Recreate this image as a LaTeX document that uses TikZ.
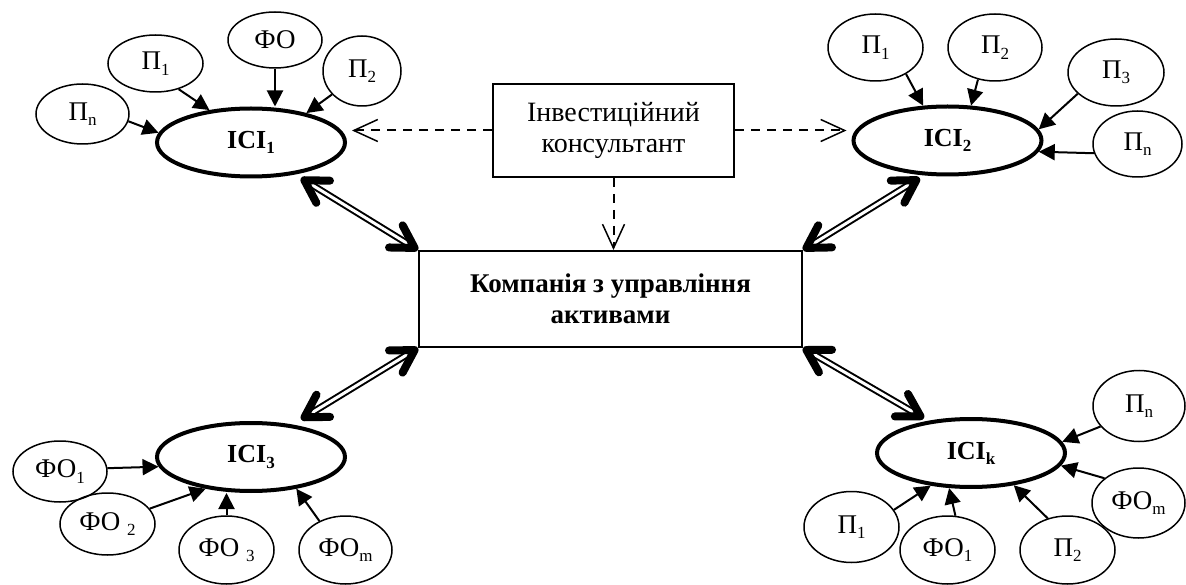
\documentclass[tikz,border=0pt]{standalone}
\usepackage{fontspec}
\setmainfont{Liberation Serif}
\usetikzlibrary{shapes.geometric,arrows.meta}
\newcommand\lowsub[1]{\raisebox{-0.2em}{\fontsize{17}{17}\selectfont #1}}

\tikzset{
  pe/.style={ellipse, draw, line width=1.5pt, inner sep=0pt,
    font=\fontsize{27}{30}\selectfont},
  ici/.style={ellipse, draw, line width=4pt, inner sep=0pt,
    minimum width=188pt, minimum height=68pt,
    font=\bfseries\fontsize{26}{30}\selectfont},
  box/.style={rectangle, draw, line width=2pt, inner sep=0pt, align=center},
  feed/.style={line width=2pt, -{Triangle[length=16pt,width=16pt]}},
  advice/.style={line width=2pt, dash pattern=on 9pt off 7pt,
    -{Straight Barb[length=24pt,width=22pt,line width=1.5pt]}},
  bigbarb/.tip={Straight Barb[color=black,round,length=22pt,width=26pt,line width=8pt]},
  shaft/.style={double, double distance=3pt, line width=2pt},
  bitips/.style={white, line width=0.01pt, bigbarb-bigbarb}
}

\begin{document}
\begin{tikzpicture}[x=1pt,y=-1pt]
\useasboundingbox (0,0) rectangle (1186,585);

% central boxes
\node[box, minimum width=383pt, minimum height=96pt,
      font=\bfseries\fontsize{27}{31}\selectfont] (main) at (610.5,299)
  {Компанія з управління\\активами};
\node[box, minimum width=241pt, minimum height=93pt,
      font=\fontsize{28}{31}\selectfont] (cons) at (613.5,130.5)
  {Інвестиційний\\консультант};

% investment institutions
\node[ici] (ici1) at (251,142.5) {ІСІ\lowsub{1}};
\node[ici] (ici2) at (947.5,140.5) {ІСІ\lowsub{2}};
\node[ici] (ici3) at (251,457) {ІСІ\lowsub{3}};
\node[ici] (icik) at (971,453) {ІСІ\lowsub{k}};

% participants, top left
\node[pe, minimum width=93pt, minimum height=60pt] (tlPn) at (82.5,114) {П\lowsub{n}};
\node[pe, minimum width=95pt, minimum height=57pt] (tlP1) at (155.5,63.5) {П\lowsub{1}};
\node[pe, minimum width=94pt, minimum height=56pt] (tlFO) at (275,40) {ФО};
\node[pe, minimum width=78pt, minimum height=70pt] (tlP2) at (362,71) {П\lowsub{2}};

% participants, top right
\node[pe, minimum width=95pt, minimum height=67pt] (trP1) at (875.5,47.5) {П\lowsub{1}};
\node[pe, minimum width=94pt, minimum height=67pt] (trP2) at (995,47.5) {П\lowsub{2}};
\node[pe, minimum width=96pt, minimum height=67pt] (trP3) at (1116,72.5) {П\lowsub{3}};
\node[pe, minimum width=89pt, minimum height=66pt] (trPn) at (1137.5,144) {П\lowsub{n}};

% participants, bottom left
\node[pe, minimum width=94pt, minimum height=61pt] (blFO1) at (60,471.5) {ФО\lowsub{1}};
\node[pe, minimum width=95pt, minimum height=62pt] (blFO2) at (107.5,524) {ФО \lowsub{2}};
\node[pe, minimum width=95pt, minimum height=68pt] (blFO3) at (226.5,550) {ФО \lowsub{3}};
\node[pe, minimum width=93pt, minimum height=68pt] (blFOm) at (345.5,550) {ФО\lowsub{m}};

% participants, bottom right
\node[pe, minimum width=92pt, minimum height=71pt] (brPn) at (1139,406) {П\lowsub{n}};
\node[pe, minimum width=93pt, minimum height=70pt] (brFOm) at (1138.5,503) {ФО\lowsub{m}};
\node[pe, minimum width=95pt, minimum height=71pt] (brP1) at (851.5,527) {П\lowsub{1}};
\node[pe, minimum width=95pt, minimum height=68pt] (brFO1) at (947.5,550) {ФО\lowsub{1}};
\node[pe, minimum width=95pt, minimum height=68pt] (brP2) at (1067.5,550) {П\lowsub{2}};

% contributions
\draw[feed] (tlPn.-9.6) -- (ici1.174);
\draw[feed] (tlP1.-48.6) -- (ici1.142);
\draw[feed] (tlFO.south) -- (tlFO.south |- ici1.north);
\draw[feed] (tlP2.218) -- (ici1.28.6);

\draw[feed] (trP1.-41) -- (ici2.125.4);
\draw[feed] (trP2.242.4) -- (ici2.56.9);
\draw[feed] (trP3.209.4) -- (ici2.7.3);
\draw[feed] (trPn.192.4) -- (ici2.-7.8);

\draw[feed] (blFO1.4.2) -- (ici3.186.4);
\draw[feed] (blFO2.20.9) -- (ici3.215.9);
\draw[feed] (blFO3.north) -- (blFO3.north |- ici3.south);
\draw[feed] (blFOm.132.2) -- (ici3.-35.5);

\draw[feed] (brPn.208.7) -- (icik.7);
\draw[feed] (brFOm.144.9) -- (icik.-8.4);
\draw[feed] (brP1.22.1) -- (icik.219);
\draw[feed] (brFO1.77.9) -- (icik.238.9);
\draw[feed] (brP2.122.9) -- (icik.-37.4);

% consultant links
\draw[advice, shorten >=5pt] (cons.west) -- (cons.west -| ici1.east);
\draw[advice, shorten >=5pt] (cons.east) -- (cons.east -| ici2.west);
\draw[advice] (cons.south) -- (cons.south |- main.north);

% two-way links with the asset manager
\draw[shaft, shorten <=13pt, shorten >=6pt] (ici1.-36) -- (main.north west);
\draw[bitips, shorten <=7pt] (ici1.-36) -- (main.north west);
\draw[shaft, shorten <=11pt, shorten >=6pt] (ici2.236.5) -- (main.north east);
\draw[bitips, shorten <=5pt] (ici2.236.5) -- (main.north east);
\draw[shaft, shorten <=16pt, shorten >=6pt] (ici3.38.3) -- (main.south west);
\draw[bitips, shorten <=10pt] (ici3.38.3) -- (main.south west);
\draw[shaft, shorten <=11pt, shorten >=6pt] (icik.143.8) -- (main.south east);
\draw[bitips, shorten <=5pt] (icik.143.8) -- (main.south east);
\end{tikzpicture}
\end{document}
